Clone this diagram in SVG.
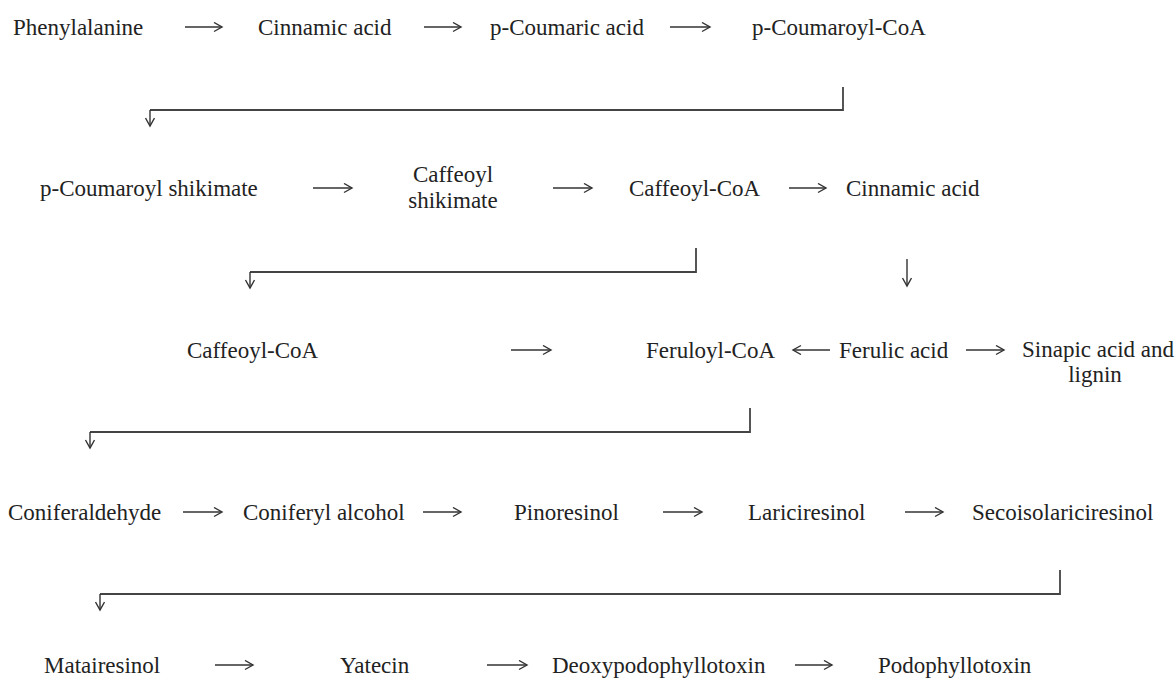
<svg xmlns="http://www.w3.org/2000/svg" width="1176" height="683" viewBox="0 0 1176 683">
<style>
text{font-family:"Liberation Serif","Times New Roman",serif;font-size:23px;fill:#222}
.c{text-anchor:middle}
.a{stroke:#333;stroke-width:1.4;fill:none;marker-end:url(#ah)}
.b{stroke:#444;stroke-width:1.8;fill:none}
</style>
<defs>
<marker id="ah" markerUnits="userSpaceOnUse" markerWidth="12" markerHeight="12" refX="9" refY="5" orient="auto">
<path d="M1,0.5 L9,5 L1,9.5" stroke="#333" stroke-width="1.4" fill="none"/>
</marker>
</defs>
<rect width="1176" height="683" fill="#fff"/>
<g id="connectors">
<line class="a" x1="185" y1="27" x2="222" y2="27"/>
<line class="a" x1="424" y1="27" x2="461" y2="27"/>
<line class="a" x1="670" y1="27" x2="710" y2="27"/>
<polyline class="b" points="843,87 843,110 150,110"/>
<line class="a" x1="150" y1="110" x2="150" y2="126"/>
<line class="a" x1="313" y1="188" x2="352" y2="188"/>
<line class="a" x1="553" y1="188" x2="592" y2="188"/>
<line class="a" x1="789" y1="188" x2="826" y2="188"/>
<polyline class="b" points="696,248 696,272 250,272"/>
<line class="a" x1="250" y1="272" x2="250" y2="288"/>
<line class="a" x1="907" y1="259" x2="907" y2="286"/>
<line class="a" x1="511" y1="350" x2="551" y2="350"/>
<line class="a" x1="830" y1="350" x2="793" y2="350"/>
<line class="a" x1="966" y1="350" x2="1004" y2="350"/>
<polyline class="b" points="750,408 750,432 90,432"/>
<line class="a" x1="90" y1="432" x2="90" y2="448"/>
<line class="a" x1="183" y1="512" x2="222" y2="512"/>
<line class="a" x1="423" y1="512" x2="461" y2="512"/>
<line class="a" x1="663" y1="512" x2="702" y2="512"/>
<line class="a" x1="905" y1="512" x2="943" y2="512"/>
<polyline class="b" points="1060,570 1060,594 100,594"/>
<line class="a" x1="100" y1="594" x2="100" y2="610"/>
<line class="a" x1="215" y1="665" x2="253" y2="665"/>
<line class="a" x1="487" y1="665" x2="527" y2="665"/>
<line class="a" x1="795" y1="665" x2="832" y2="665"/>
</g>
<g id="phenylalanine"><text x="13" y="35">Phenylalanine</text></g>
<g id="cinnamic1"><text x="258" y="35">Cinnamic acid</text></g>
<g id="pcoumaric"><text x="490" y="35">p-Coumaric acid</text></g>
<g id="pcoumaroylcoa"><text x="752" y="35">p-Coumaroyl-CoA</text></g>
<g id="pcoumaroylshik"><text x="40" y="196">p-Coumaroyl shikimate</text></g>
<g id="caffeoylshik"><text class="c" x="453" y="182">Caffeoyl</text><text class="c" x="453" y="208">shikimate</text></g>
<g id="caffeoylcoa1"><text x="629" y="196">Caffeoyl-CoA</text></g>
<g id="cinnamic2"><text x="846" y="196">Cinnamic acid</text></g>
<g id="caffeoylcoa2"><text x="187" y="358">Caffeoyl-CoA</text></g>
<g id="feruloylcoa"><text x="646" y="358">Feruloyl-CoA</text></g>
<g id="ferulic"><text x="839" y="358">Ferulic acid</text></g>
<g id="sinapic"><text x="1022" y="357">Sinapic acid and</text><text class="c" x="1095" y="382">lignin</text></g>
<g id="coniferaldehyde"><text x="8" y="520">Coniferaldehyde</text></g>
<g id="coniferyl"><text x="243" y="520">Coniferyl alcohol</text></g>
<g id="pinoresinol"><text x="514" y="520">Pinoresinol</text></g>
<g id="lariciresinol"><text x="748" y="520">Lariciresinol</text></g>
<g id="secoisolariciresinol"><text x="972" y="520">Secoisolariciresinol</text></g>
<g id="matairesinol"><text x="44" y="673">Matairesinol</text></g>
<g id="yatecin"><text x="340" y="673">Yatecin</text></g>
<g id="deoxypodophyllotoxin"><text x="552" y="673">Deoxypodophyllotoxin</text></g>
<g id="podophyllotoxin"><text x="878" y="673">Podophyllotoxin</text></g>
</svg>
